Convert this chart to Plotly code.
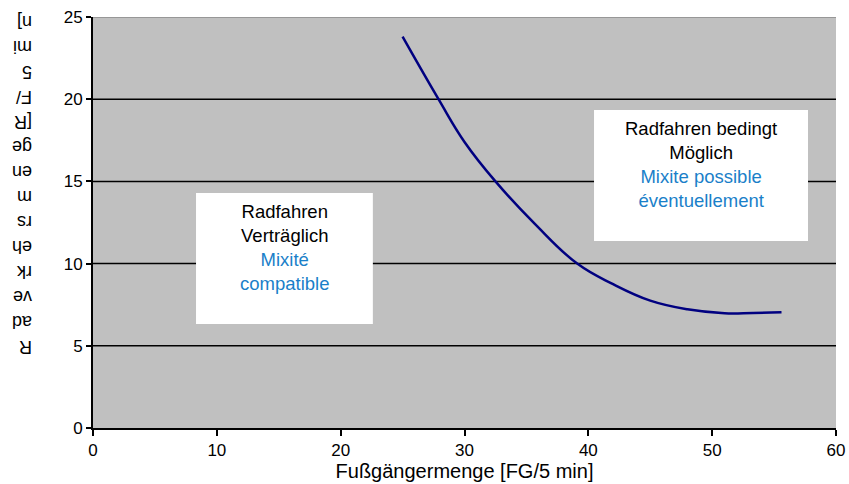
import plotly.graph_objects as go

# Data
foot_traffic = [25.0, 27.9, 30.0, 32.5, 35.7, 39.1, 42.0, 45.0, 48.0, 51.0, 53.3, 55.6]
bike_traffic = [23.8, 20.0, 17.4, 15.0, 12.4, 10.0, 8.75, 7.75, 7.22, 6.98, 7.0, 7.04]

x_ticks = [0, 10, 20, 30, 40, 50, 60]
y_ticks = [0, 5, 10, 15, 20, 25]
grid_levels = [5, 10, 15, 20]

x_title = "Fußgängermenge [FG/5 min]"
y_title_chunks = ["R", "ad", "ve", "rk", "eh", "rs", "m", "en", "ge", "[R", "F/", "5", "mi", "n]"]

zone_left = {"x0": 8.32, "x1": 22.6, "y0": 6.33, "y1": 14.3,
             "de": ["Radfahren", "Verträglich"], "fr": ["Mixité", "compatible"]}
zone_right = {"x0": 40.46, "x1": 57.74, "y0": 11.37, "y1": 19.34,
              "de": ["Radfahren bedingt", "Möglich"], "fr": ["Mixite possible", "éventuellement"]}

FONT = "Liberation Sans, Arial, sans-serif"
BLUE = "#1a7fc9"

fig = go.Figure()
fig.add_trace(go.Scatter(
    x=foot_traffic, y=bike_traffic, mode="lines",
    line=dict(color="#000080", width=2.5, shape="spline", smoothing=1.2),
    hoverinfo="skip", showlegend=False,
))

shapes = []
for g in grid_levels:
    shapes.append(dict(type="line", xref="x", yref="y", x0=0, x1=60, y0=g, y1=g,
                       line=dict(color="#000000", width=1.5), layer="below"))
shapes.append(dict(type="line", xref="x", yref="y", x0=0, x1=60, y0=25, y1=25,
                   line=dict(color="#8a8a8a", width=1.5), layer="below"))

annotations = []
for z in (zone_left, zone_right):
    shapes.append(dict(type="rect", xref="x", yref="y", x0=z["x0"], x1=z["x1"],
                       y0=z["y0"], y1=z["y1"], fillcolor="white",
                       line=dict(width=0), layer="above"))
    text = "<br>".join(z["de"]) + "<br>" + "<br>".join(
        f"<span style='color:{BLUE}'>{t}</span>" for t in z["fr"])
    annotations.append(dict(
        xref="x", yref="y", x=(z["x0"] + z["x1"]) / 2, y=z["y1"],
        yshift=-6, xanchor="center", yanchor="top", showarrow=False,
        text=text, align="center", font=dict(family=FONT, size=18.5, color="#000000"),
    ))

# y-axis title: upside-down chunks stacked bottom-to-top
bottom_px = 347
step_px = 25
plot_h = 411
plot_w = 743
for i, chunk in enumerate(y_title_chunks):
    ypx = bottom_px - i * step_px
    annotations.append(dict(
        xref="paper", yref="paper", x=(34 - 93) / plot_w, y=(428 - ypx) / plot_h,
        xanchor="right", yanchor="middle", showarrow=False, textangle=180,
        text=chunk, font=dict(family=FONT, size=18, color="#000000"),
    ))

fig.update_layout(
    width=849, height=484,
    margin=dict(l=93, r=13, t=17, b=56, autoexpand=False),
    paper_bgcolor="white", plot_bgcolor="#c0c0c0",
    font=dict(family=FONT, color="#000000"),
    shapes=shapes, annotations=annotations,
    xaxis=dict(range=[0, 60], tickvals=x_ticks, showgrid=False, zeroline=False,
               automargin=False,
               showline=True, linecolor="#000000", linewidth=2,
               ticks="outside", ticklen=6, tickcolor="#000000", tickwidth=1.5,
               tickfont=dict(size=17, family=FONT),
               title=dict(text=x_title, font=dict(size=20, family=FONT), standoff=0)),
    yaxis=dict(range=[0, 25], tickvals=y_ticks, showgrid=False, zeroline=False,
               automargin=False,
               showline=True, linecolor="#000000", linewidth=2,
               ticks="outside", ticklen=5, tickcolor="#000000", tickwidth=1.5,
               tickfont=dict(size=17, family=FONT)),
)

fig.write_html(
    "out.html",
    config={"displayModeBar": False},
    post_script="document.body.style.margin='0';document.body.style.overflow='hidden';",
)
